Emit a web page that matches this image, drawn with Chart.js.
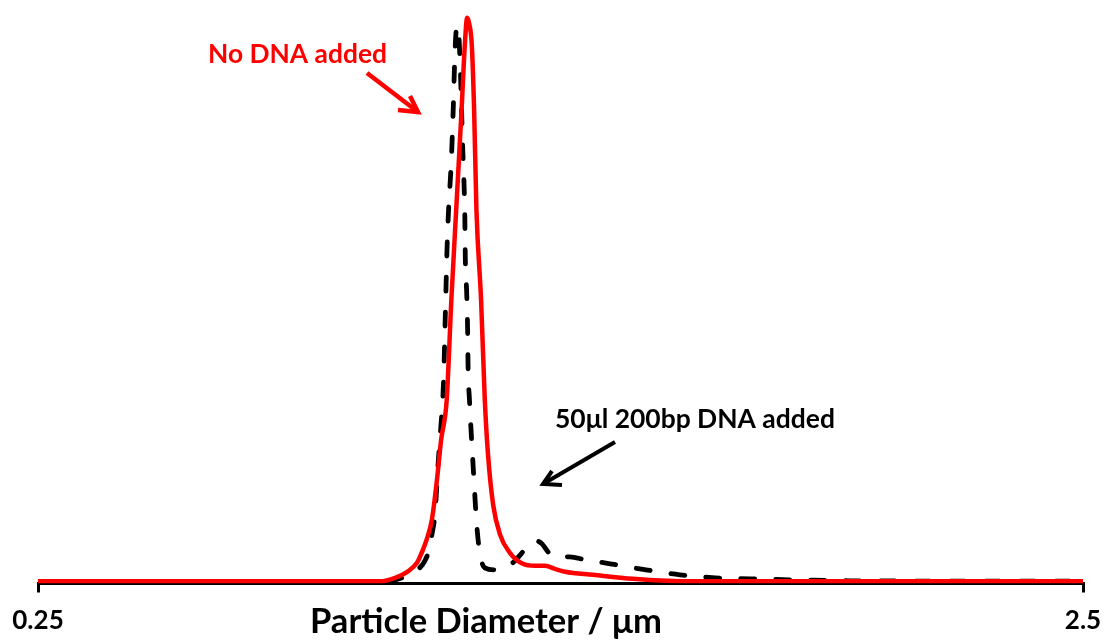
<!DOCTYPE html>
<html>
<head>
<meta charset="utf-8">
<script src="https://cdn.jsdelivr.net/npm/chart.js@4.4.1/dist/chart.umd.min.js"></script>
<style>
  html, body { margin: 0; padding: 0; background: #fff; }
  #wrap { width: 1104px; height: 644px; position: relative; }
</style>
</head>
<body>
<div id="wrap"><canvas id="c"></canvas></div>
<script>
// ---- Data (particle diameter in µm, relative intensity) ----
const TICK_VALUES = [0.25, 2.5];
const TICK_LABELS = ["0.25", "2.5"];

const noDnaX = [0.250, 0.814, 0.943, 0.986, 1.019, 1.045, 1.066, 1.077, 1.088, 1.098, 1.109, 1.118, 1.130, 1.140, 1.151, 1.162, 1.169, 1.174, 1.179, 1.184, 1.189, 1.194, 1.204, 1.212, 1.219, 1.230, 1.245, 1.266, 1.294, 1.320, 1.342, 1.363, 1.385, 1.445, 1.531, 1.604, 1.675, 2.500];
const noDnaY = [0.09, 0.09, 0.09, 0.09, 0.71, 1.77, 3.37, 5.32, 7.80, 10.99, 18.09, 25.18, 32.27, 50.0, 66.84, 83.69, 95.21, 100.0, 98.76, 95.21, 83.69, 65.96, 50.0, 32.27, 22.52, 13.65, 8.33, 5.14, 3.19, 2.84, 2.84, 2.30, 1.77, 1.24, 0.53, 0.18, 0.09, 0.09];

const dnaX = [0.250, 0.700, 0.986, 1.019, 1.040, 1.057, 1.072, 1.083, 1.092, 1.098, 1.105, 1.111, 1.119, 1.122, 1.124, 1.126, 1.128, 1.130, 1.133, 1.140, 1.144, 1.148, 1.152, 1.156, 1.159, 1.162, 1.164, 1.167, 1.169, 1.170, 1.173, 1.175, 1.176, 1.179, 1.187, 1.195, 1.202, 1.212, 1.234, 1.260, 1.277, 1.292, 1.309, 1.322, 1.335, 1.350, 1.365, 1.395, 1.428, 1.482, 1.546, 1.632, 1.708, 1.783, 1.869, 1.998, 2.500];
const dnaY = [-0.15, -0.1, 0.0, 0.35, 0.89, 1.60, 2.48, 3.72, 5.67, 8.33, 12.23, 20.39, 29.26, 33.16, 37.59, 44.15, 50.53, 57.09, 64.18, 74.82, 83.69, 94.33, 98.58, 96.99, 91.67, 83.69, 77.84, 71.28, 64.72, 57.62, 51.24, 44.68, 38.12, 32.27, 20.39, 9.75, 4.79, 2.48, 2.13, 2.66, 3.72, 5.14, 6.74, 7.27, 6.74, 5.14, 4.43, 4.43, 3.90, 3.19, 2.30, 1.24, 0.71, 0.53, 0.35, 0.18, 0.10];

const LABEL_NO_DNA = "No DNA added";
const LABEL_DNA = "50\u03bcl 200bp DNA added";
const X_TITLE = "Particle Diameter / \u03bcm";

const toPoints = (xs, ys) => xs.map((x, i) => ({ x: x, y: ys[i] }));

const FONT = "Lato, 'Open Sans', 'DejaVu Sans', sans-serif";

function fitText(ctx, text, left, baseline, width, color) {
  ctx.save();
  ctx.font = "bold 100px " + FONT;
  const w = ctx.measureText(text).width;
  const size = 100 * width / w;
  ctx.font = "bold " + size.toFixed(2) + "px " + FONT;
  ctx.fillStyle = color;
  ctx.textBaseline = "alphabetic";
  ctx.textAlign = "left";
  ctx.fillText(text, left, baseline);
  ctx.restore();
}

function arrow(ctx, x0, y0, x1, y1, wa, wb, color, lw) {
  ctx.save();
  ctx.strokeStyle = color;
  ctx.lineWidth = lw;
  ctx.lineCap = "butt";
  ctx.lineJoin = "miter";
  ctx.beginPath();
  ctx.moveTo(x0, y0);
  ctx.lineTo(x1, y1);
  ctx.stroke();
  ctx.beginPath();
  ctx.moveTo(wa[0], wa[1]);
  ctx.lineTo(x1, y1);
  ctx.lineTo(wb[0], wb[1]);
  ctx.stroke();
  ctx.restore();
}

const annotations = {
  id: "annotations",
  afterDraw(chart) {
    const ctx = chart.ctx;
    fitText(ctx, LABEL_NO_DNA, 208, 63, 179, "#ff0000");
    fitText(ctx, LABEL_DNA, 555, 428, 280, "#000000");
    fitText(ctx, X_TITLE, 310, 633, 352, "#000000");
    arrow(ctx, 367, 73, 418, 112, [398, 110], [410, 96], "#ff0000", 4.5);
    arrow(ctx, 615, 442, 543, 484, [552, 471], [562, 485], "#000000", 4);
  }
};

new Chart(document.getElementById("c"), {
  type: "line",
  data: {
    datasets: [
      {
        label: LABEL_NO_DNA,
        data: toPoints(noDnaX, noDnaY),
        borderColor: "#ff0000",
        borderWidth: 4.5,
        pointRadius: 0,
        tension: 0.4,
        cubicInterpolationMode: "monotone",
        fill: false,
        order: 0
      },
      {
        label: LABEL_DNA,
        data: toPoints(dnaX, dnaY),
        borderColor: "#000000",
        borderWidth: 4.8,
        borderDash: [14, 21],
        borderCapStyle: "round",
        pointRadius: 0,
        tension: 0.4,
        cubicInterpolationMode: "monotone",
        fill: false,
        order: 1
      }
    ]
  },
  options: {
    responsive: true,
    maintainAspectRatio: false,
    animation: false,
    events: [],
    layout: { padding: { left: 38, right: 21, top: 6.5, bottom: 0 } },
    plugins: { legend: { display: false }, tooltip: { enabled: false }, title: { display: false } },
    scales: {
      x: {
        type: "linear",
        min: 0.25,
        max: 2.5,
        afterBuildTicks: (s) => { s.ticks = TICK_VALUES.map(v => ({ value: v })); },
        afterFit: (s) => { s.height = 60.5; s.paddingLeft = 0; s.paddingRight = 0; },
        ticks: {
          autoSkip: false,
          maxRotation: 0,
          padding: 13,
          color: "#000",
          font: { family: FONT, weight: "bold", size: 26 },
          callback: (v) => { const i = TICK_VALUES.indexOf(v); return i >= 0 ? TICK_LABELS[i] : ""; }
        },
        grid: { drawOnChartArea: false, drawTicks: true, tickLength: 9, color: "#000", lineWidth: 3 },
        border: { display: true, color: "#000", width: 3 },
        title: { display: false }
      },
      y: {
        display: false,
        min: -0.3,
        max: 102
      }
    }
  },
  plugins: [annotations]
});
</script>
</body>
</html>
